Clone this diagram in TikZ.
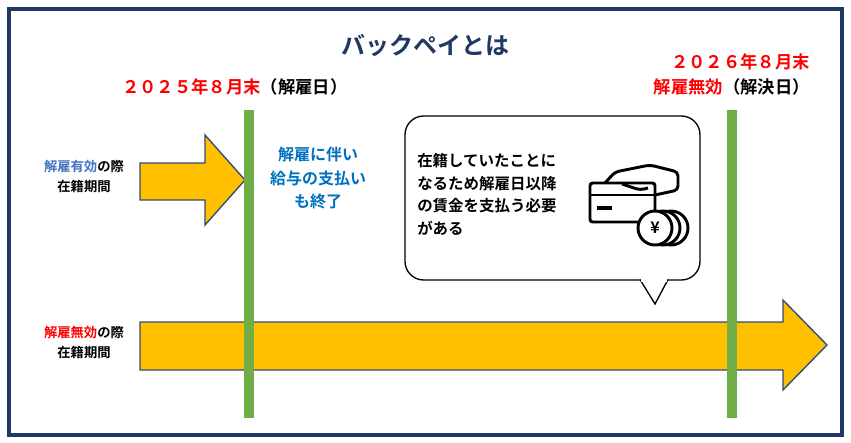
\documentclass[tikz,border=0pt]{standalone}
\usepackage{fontspec}
\setmainfont{Noto Sans CJK JP}[BoldFont={* Bold}]
\usetikzlibrary{shapes.arrows}
\definecolor{navy}{HTML}{1F3864}
\definecolor{arrowfill}{HTML}{FFC000}
\definecolor{arrowline}{HTML}{2F4A7A}
\definecolor{bar}{HTML}{70AD47}
\definecolor{bluet}{HTML}{0070C0}
\definecolor{bluel}{HTML}{4472C4}
\definecolor{redt}{HTML}{FF0000}
\tikzset{
 px/.style={x=0.75pt,y=-0.75pt},
 txt/.style={font=\bfseries\fontsize{13}{15}\selectfont,inner sep=0pt,align=left},
 arr/.style={fill=arrowfill,draw=arrowline,line width=1pt,line join=miter},
 gbar/.style={fill=bar,draw=none},
}
\begin{document}
\begin{tikzpicture}[px]
\useasboundingbox (0,0) rectangle (851,443);
\fill[white] (0,0) rectangle (851,443);
\draw[navy,line width=2.5pt] (9,9) rectangle (842,435);
\node[font=\bfseries\fontsize{18}{20}\selectfont,text=navy] (title) at (425,45) {バックペイとは};
\node[txt,anchor=west] (d1) at (122,87) {\textcolor{redt}{２０２５年８月末}（解雇日）};
\node[txt,anchor=east] (d2a) at (810,62) {\textcolor{redt}{２０２６年８月末}};
\node[txt,anchor=east] (d2b) at (810,87) {\textcolor{redt}{解雇無効}（解決日）};
% arrows
\draw[arr] (140,163) -- (205,163) -- (205,135) -- (245,180) -- (205,225) -- (205,200) -- (140,200) -- cycle;
\draw[arr] (140,322) -- (783,322) -- (783,300) -- (827,345) -- (783,390) -- (783,370) -- (140,370) -- cycle;
% bars
\fill[gbar] (244,110) rectangle (254,418);
\fill[gbar] (727,110) rectangle (737,418);
\node[txt,font=\bfseries\fontsize{10}{15}\selectfont,align=center] (l1) at (84,176) {\textcolor{bluel}{解雇有効}の際\\在籍期間};
\node[txt,font=\bfseries\fontsize{10}{15}\selectfont,align=center] (l2) at (84,342) {\textcolor{redt}{解雇無効}の際\\在籍期間};
\node[txt,align=center,text=bluet,font=\bfseries\fontsize{12}{17.5}\selectfont] (stop) at (318,178) {解雇に伴い\\給与の支払い\\も終了};
% callout
\draw[black,line width=1pt,fill=white,rounded corners=14pt] (640,280) -- (405,280) -- (405,116) -- (700,116) -- (700,280) -- (668,280);
\draw[black,line width=1pt,fill=white] (640,279.5) -- (655,304) -- (668,279.5);
\fill[white] (641,278) rectangle (667,282);
\node[txt,anchor=north west,font=\bfseries\fontsize{11.6}{17}\selectfont] (ct) at (417,153) {在籍していたことに\\なるため解雇日以降\\の賃金を支払う必要\\がある};
% icon
\begin{scope}[line width=2.2pt,black]
 \draw[rounded corners=2pt] (590,183) rectangle (655,222);
 \draw (590,195) -- (655,195);
 \fill (597,206) rectangle (612,210);
 \draw[rounded corners=3pt] (605,183) -- (615,172) -- (650,165) -- (678,172) -- (678,190) -- (655,195);
 \draw[rounded corners=3pt] (622,184) -- (640,190) -- (648,188);
 \foreach \dx in {16,8,0} \draw[fill=white] (655+\dx,228) circle (17);
 \node[font=\bfseries\fontsize{12}{12}\selectfont,inner sep=0pt] (yen) at (655,228) {¥};
\end{scope}
\end{tikzpicture}
\end{document}
